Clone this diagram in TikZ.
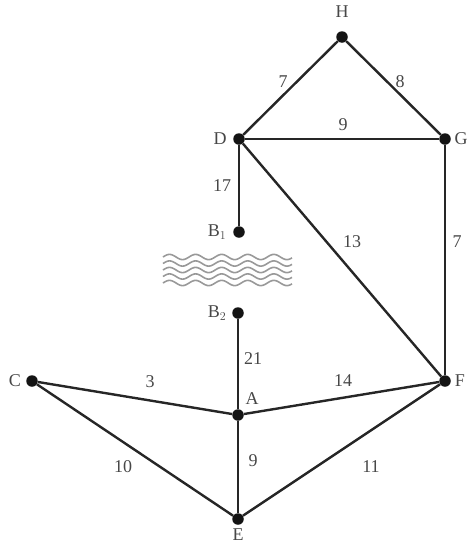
\documentclass[tikz,border=0pt]{standalone}
\usepackage{fontspec}
\setmainfont{Liberation Serif}
\begin{document}
\begin{tikzpicture}[x=1pt,y=-1pt,
  vtx/.style={circle,fill=black!92,inner sep=0pt,minimum size=11.5pt},
  edge/.style={line width=2.4pt,draw=black!85},
  lbl/.style={font=\fontsize{18}{18}\selectfont,text=black!72,inner sep=0pt},
  wave/.style={line width=1.6pt,draw=black!40}]
\useasboundingbox (0,0) rectangle (469,544);
\node[vtx] (H) at (342,37) {};
\node[vtx] (D) at (239,139) {};
\node[vtx] (G) at (445,139) {};
\node[vtx] (B1) at (239,232) {};
\node[vtx] (B2) at (238,313) {};
\node[vtx] (C) at (32,381) {};
\node[vtx] (A) at (238,415) {};
\node[vtx] (F) at (445,381) {};
\node[vtx] (E) at (238,519) {};
% vertex names
\node[lbl] (lH) at (342,12) {H};
\node[lbl] (lD) at (220,139) {D};
\node[lbl] (lG) at (461,139) {G};
\node[lbl] (lB1) at (217,232) {B$_1$};
\node[lbl] (lB2) at (217,313) {B$_2$};
\node[lbl] (lC) at (15,381) {C};
\node[lbl] (lA) at (252,399) {A};
\node[lbl] (lF) at (460,381) {F};
\node[lbl] (lE) at (238,535) {E};
% edges
\draw[edge] (H) -- (D);
\draw[edge] (H) -- (G);
\draw[edge] (D) -- (G);
\draw[edge] (D) -- (B1);
\draw[edge] (D) -- (F);
\draw[edge] (G) -- (F);
\draw[edge] (B2) -- (A);
\draw[edge] (C) -- (A);
\draw[edge] (A) -- (F);
\draw[edge] (C) -- (E);
\draw[edge] (A) -- (E);
\draw[edge] (E) -- (F);
% weights
\node[lbl] (w1) at (283,82) {7};
\node[lbl] (w2) at (400,82) {8};
\node[lbl] (w3) at (343,125) {9};
\node[lbl] (w4) at (222,186) {17};
\node[lbl] (w5) at (352,242) {13};
\node[lbl] (w6) at (457,242) {7};
\node[lbl] (w7) at (253,359) {21};
\node[lbl] (w8) at (150,382) {3};
\node[lbl] (w9) at (343,381) {14};
\node[lbl] (w10) at (123,467) {10};
\node[lbl] (w11) at (253,461) {9};
\node[lbl] (w12) at (371,467) {11};
% river
\foreach \yy in {257,263.5,270,276.5,283}
  \draw[wave] plot[domain=163:292,samples=120,smooth] (\x,{\yy-2.6*sin(13.8*(\x-163))});
\end{tikzpicture}
\end{document}
